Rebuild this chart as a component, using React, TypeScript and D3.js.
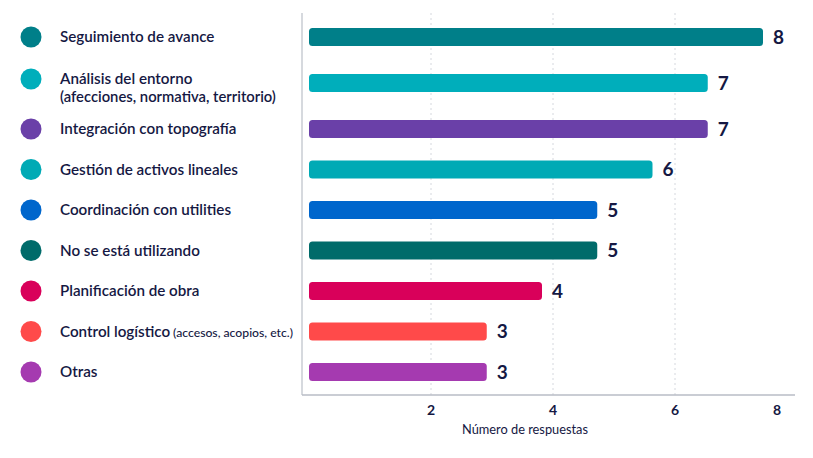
import React from "react";
import * as d3 from "d3";

const categories = [
  "Seguimiento de avance",
  "Análisis del entorno",
  "Integración con topografía",
  "Gestión de activos lineales",
  "Coordinación con utilities",
  "No se está utilizando",
  "Planificación de obra",
  "Control logístico",
  "Otras",
];
// second line (row 2) or inline note (row 8)
const subLabels = [
  "",
  "(afecciones, normativa, territorio)",
  "",
  "",
  "",
  "",
  "",
  "(accesos, acopios, etc.)",
  "",
];
const values = [8, 7, 7, 6, 5, 5, 4, 3, 3];
const colors = [
  "#007F89",
  "#00AEBB",
  "#6A40A8",
  "#00AAB5",
  "#0066CC",
  "#006B6A",
  "#D9005A",
  "#FF4A4A",
  "#A53AB0",
];
const ticks = [2, 4, 6, 8];
const axisTitle = "Número de respuestas";

const W = 813;
const H = 458;
const INK = "#151843";
const FONT = "Lato, 'Noto Sans', sans-serif";

export default function App() {
  const plotLeft = 302;
  const plotRight = 795;
  const plotTop = 13;
  const plotBottom = 395;
  const barStart = 309;

  const x = d3.scaleLinear().domain([0, 8]).range([309, 797]);
  const barX = d3.scaleLinear().domain([0, 8]).range([321, 763]);

  // rows next to the two-line label get a little more room
  const twoLine = (i: number) => i === 1;
  const gaps = categories.slice(1).map((_, i) => (twoLine(i) || twoLine(i + 1) ? 1.136 : 1));
  const units = [0, ...Array.from(d3.cumsum(gaps))];
  const yUnit = d3.scaleLinear().domain([0, units[units.length - 1]]).range([37, 372]);
  const y = (i: number) => yUnit(units[i]);
  const barH = 18;

  return (
    <svg width={W} height={H} style={{ display: "block", position: "absolute", left: 0, top: 0 }}>
      <rect width={W} height={H} fill="#ffffff" />
      {/* dotted gridlines */}
      {ticks
        .filter((t) => x(t) < plotRight)
        .map((t) => (
          <line
            key={"g" + t}
            x1={x(t)}
            x2={x(t)}
            y1={plotTop}
            y2={plotBottom}
            stroke="#D5D8DE"
            strokeWidth={1}
            strokeDasharray="2,3"
          />
        ))}
      {/* axes */}
      <line x1={plotLeft} x2={plotLeft} y1={plotTop} y2={plotBottom} stroke="#C9CCD3" strokeWidth={1.5} />
      <line x1={plotLeft} x2={plotRight} y1={plotBottom} y2={plotBottom} stroke="#B9BDC6" strokeWidth={1.5} />
      {ticks.map((t) => (
        <text
          key={"t" + t}
          x={Math.min(x(t), 777)}
          y={415}
          textAnchor="middle"
          fontFamily={FONT}
          fontWeight={700}
          fontSize={14}
          fill={INK}
        >
          {t}
        </text>
      ))}
      <text x={525} y={434} textAnchor="middle" fontFamily={FONT} fontSize={12.8} fill={INK}>
        {axisTitle}
      </text>

      {categories.map((c, i) => {
        const cy = y(i);
        const labelY = twoLine(i) ? cy - 4 : cy;
        return (
          <g key={c}>
            <circle cx={31} cy={labelY} r={10.5} fill={colors[i]} />
            <text
              x={60}
              y={labelY}
              dy="0.35em"
              fontFamily={FONT}
              fontWeight={600}
              fontSize={15.2}
              fill={INK}
            >
              {c}
              {subLabels[i] && !twoLine(i) ? (
                <tspan fontSize={12.2} fontWeight={500} dx={3}>
                  {subLabels[i]}
                </tspan>
              ) : null}
            </text>
            {twoLine(i) ? (
              <text
                x={60}
                y={labelY + 18}
                dy="0.35em"
                fontFamily={FONT}
                fontWeight={600}
                fontSize={14.8}
                fill={INK}
              >
                {subLabels[i]}
              </text>
            ) : null}
            <rect
              x={barStart}
              y={cy - barH / 2}
              width={barX(values[i]) - barStart}
              height={barH}
              rx={3.5}
              fill={colors[i]}
            />
            <text
              x={barX(values[i]) + 10}
              y={cy}
              dy="0.36em"
              fontFamily={FONT}
              fontWeight={700}
              fontSize={19}
              fill={INK}
            >
              {values[i]}
            </text>
          </g>
        );
      })}
    </svg>
  );
}
